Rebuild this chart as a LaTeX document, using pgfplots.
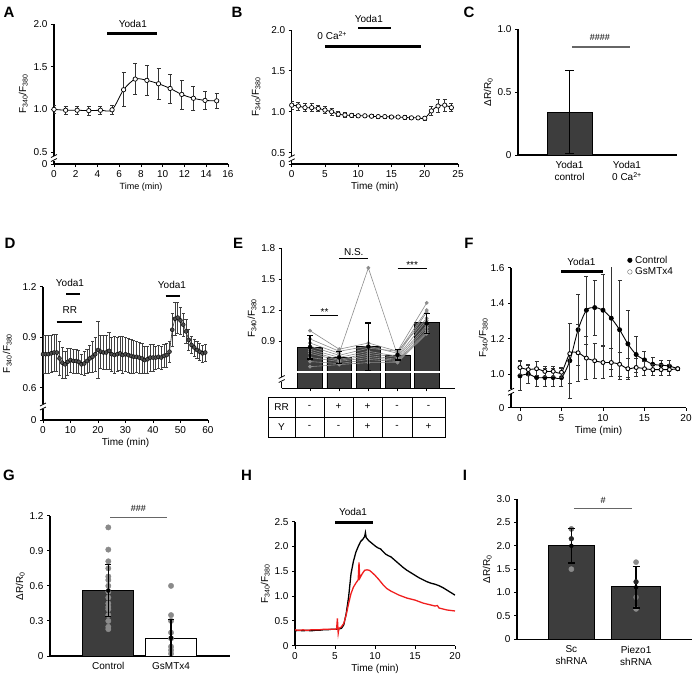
\documentclass[border=0pt]{standalone}
\usepackage{fontspec}
\setmainfont{Liberation Sans}
\usepackage{pgfplots}
\pgfplotsset{compat=1.18}
\definecolor{barfill}{HTML}{3D3D3D}
\definecolor{dotgray}{HTML}{8A8A8A}
\definecolor{hred}{HTML}{F01E1E}
\pgfplotsset{
  panel/.style={
    scale only axis, clip mode=individual, anchor=south west,
    axis x line*=bottom, axis y line*=left,
    axis line style={-, line width=1.1pt, black},
    tick align=outside, major tick length=3pt,
    tick style={line width=0.9pt, black},
    every tick label/.append style={font=\fontsize{10}{12}\selectfont},
    label style={font=\fontsize{10}{12}\selectfont},
    /pgf/number format/assume math mode=true,
    xlabel style={yshift=2pt},
    ylabel style={yshift=-2pt},
  },
  ebar/.style={error bars/.cd, y dir=both, y explicit,
    error bar style={line width=0.7pt, black!80},
    error mark options={rotate=90, mark size=2pt, line width=0.7pt, black!80}},
  bigebar/.style={error bars/.cd, y dir=both, y explicit,
    error bar style={line width=1.3pt, black},
    error mark options={rotate=90, mark size=#1, line width=1.3pt, black}},
}
\newcommand{\brk}[2]{%
  \fill[white] ([shift={(-4pt,-2.5pt)}]axis cs:#1,#2) rectangle ([shift={(4pt,2.5pt)}]axis cs:#1,#2);
  \draw[line width=0.8pt] ([shift={(-3pt,-3.5pt)}]axis cs:#1,#2) -- ([shift={(3pt,-0.5pt)}]axis cs:#1,#2);
  \draw[line width=0.8pt] ([shift={(-3pt,0.5pt)}]axis cs:#1,#2) -- ([shift={(3pt,3.5pt)}]axis cs:#1,#2);
}
\newcommand{\yl}{F\textsubscript{340}/F\textsubscript{380}}
\newcommand{\dr}{ΔR/R\textsubscript{0}}
\newcommand{\hfour}{\fontsize{9}{10}\selectfont\#\#\#\#}
\newcommand{\hthree}{\fontsize{9}{10}\selectfont\#\#\#}
\newcommand{\hone}{\fontsize{9}{10}\selectfont\#}
\begin{document}
\begin{tikzpicture}
\path[use as bounding box] (0pt,0pt) rectangle (696pt,-678pt);
\tikzset{plab/.style={font=\bfseries\fontsize{15}{17}\selectfont}}
\node[plab] at (9pt,-12.5pt) {A};
\node[plab] at (237pt,-12pt) {B};
\node[plab] at (469pt,-12pt) {C};
\node[plab] at (10pt,-243pt) {D};
\node[plab] at (238pt,-243pt) {E};
\node[plab] at (469pt,-243pt) {F};
\node[plab] at (9pt,-475pt) {G};
\node[plab] at (246.5pt,-475pt) {H};
\node[plab] at (465pt,-475pt) {I};

% ---------------- A
\begin{axis}[panel, at={(54pt,-164pt)}, width=174pt, height=140pt,
  xmin=0, xmax=16, ymin=0.36, ymax=2.0,
  xtick={0,2,...,16}, ytick={0.5,1,1.5,2}, yticklabels={0.5,1.0,1.5,2.0},
  extra y ticks={0.36}, extra y tick labels={0},
  xlabel={Time (min)}, ylabel={\yl}, xlabel style={font=\fontsize{9}{11}\selectfont},
  ylabel style={yshift=-5pt}]
\addplot[black, line width=0.8pt, smooth, mark=*, mark size=2.2pt,
  mark options={fill=white, line width=0.7pt}, ebar]
  table[x=t, y=v, y error=e] {
t v e
0 1.00 0.05
1.07 0.99 0.05
2.13 0.99 0.05
3.2 0.985 0.055
4.27 0.99 0.05
5.34 0.995 0.05
6.4 1.23 0.20
7.47 1.355 0.18
8.54 1.34 0.17
9.61 1.30 0.18
10.68 1.245 0.17
11.75 1.175 0.17
12.82 1.13 0.14
13.89 1.105 0.11
14.96 1.10 0.09
};
\draw[line width=3pt] (axis cs:4.9,1.894) -- (axis cs:9.5,1.894);
\node at (axis cs:7.25,2.0) {Yoda1};
\brk{0}{0.43}
\end{axis}

% ---------------- B
\begin{axis}[panel, at={(291.7pt,-164pt)}, width=166.3pt, height=134pt,
  xmin=0, xmax=25, ymin=0.36, ymax=2.0,
  xtick={0,5,...,25}, ytick={0.5,1,1.5,2}, yticklabels={0.5,1.0,1.5,2.0},
  extra y ticks={0.36}, extra y tick labels={0},
  xlabel={Time (min)}, ylabel={\yl}]
\addplot[black, line width=0.8pt, smooth, mark=*, mark size=2.2pt,
  mark options={fill=white, line width=0.7pt}, ebar]
  table[x=t, y=v, y error=e] {
t v e
0 1.08 0.05
1 1.07 0.05
2 1.05 0.05
3 1.05 0.05
4 1.04 0.04
5 1.02 0.04
6 1.00 0.04
7 0.97 0.03
8 0.96 0.03
9 0.955 0.02
10 0.95 0.02
11 0.95 0.02
12 0.945 0.02
13 0.94 0.02
14 0.94 0.02
15 0.935 0.02
16 0.935 0.02
17 0.93 0.02
18 0.925 0.02
19 0.925 0.02
20 0.92 0.02
21 1.01 0.06
22 1.07 0.08
23 1.08 0.07
24 1.05 0.05
};
\draw[line width=3pt] (axis cs:5,1.80) -- (axis cs:19.4,1.80);
\draw[line width=2.5pt] (axis cs:10,2.025) -- (axis cs:15,2.025);
\node at (axis cs:6.1,1.93) {0 Ca\textsuperscript{2+}};
\node at (axis cs:11.6,2.14) {Yoda1};
\brk{0}{0.43}
\end{axis}

% ---------------- C
\begin{axis}[panel, at={(518pt,-155pt)}, width=159pt, height=126pt,
  xmin=0.104, xmax=2.87, ymin=0, ymax=1,
  ytick={0,0.5,1}, yticklabels={0,0.5,1.0},
  xtick={1,2}, xticklabels={{Yoda1\\control},{Yoda1\\0 Ca\textsuperscript{2+}}},
  xticklabel style={align=center}, xtick style={draw=none},
  ylabel={\dr}]
\addplot[ybar, bar width=45pt, fill=barfill, draw=black, line width=0.8pt, bigebar=4.5pt]
  coordinates {(1,0.34) +- (0,0.33)};
\addplot[ybar, bar width=45pt, fill=barfill, draw=black, line width=0.8pt]
  coordinates {(2,0.004)};
\draw[line width=1.2pt, black!60] (axis cs:1.043,0.857) -- (axis cs:2.05,0.857);
\node at (axis cs:1.53,0.93) {\hfour};
\end{axis}

% ---------------- D
\begin{axis}[panel, at={(43pt,-420pt)}, width=165pt, height=133.3pt,
  xmin=0, xmax=60, ymin=0.41, ymax=1.2,
  xtick={0,10,...,60}, ytick={0.6,0.9,1.2}, yticklabels={0.6,0.9,1.2},
  extra y ticks={0.41}, extra y tick labels={0},
  xlabel={Time (min)}, ylabel={\yl}]
\addplot[black!80, line width=0.6pt, mark=*, mark size=2pt,
  mark options={fill=black!70, draw=black, line width=0.4pt},
  error bars/.cd, y dir=both, y explicit,
  error bar style={line width=0.5pt, black!75},
  error mark options={rotate=90, mark size=1.6pt, line width=0.5pt, black!75}]
  table[x=t, y=v, y error=e] {
t v e
0 0.80 0.11
1 0.80 0.11
2 0.80 0.11
3 0.805 0.11
4 0.81 0.11
5 0.81 0.11
6 0.775 0.10
7 0.75 0.09
8 0.74 0.08
9 0.755 0.08
10 0.765 0.07
11 0.76 0.07
12 0.76 0.07
13 0.755 0.07
14 0.74 0.06
15 0.745 0.07
16 0.76 0.07
17 0.775 0.08
18 0.785 0.09
19 0.80 0.10
20 0.825 0.17
21 0.815 0.10
22 0.81 0.10
23 0.81 0.10
24 0.82 0.11
25 0.80 0.10
26 0.795 0.11
27 0.80 0.10
28 0.805 0.10
29 0.795 0.11
30 0.80 0.10
31 0.795 0.10
32 0.79 0.10
33 0.785 0.10
34 0.785 0.09
35 0.78 0.09
36 0.775 0.09
37 0.765 0.08
38 0.77 0.08
39 0.78 0.08
40 0.78 0.08
41 0.78 0.07
42 0.785 0.07
43 0.78 0.07
44 0.79 0.07
45 0.795 0.07
46 0.815 0.06
47 0.945 0.10
48 1.01 0.10
49 1.017 0.09
50 1.00 0.08
51 0.975 0.07
52 0.935 0.07
53 0.885 0.06
54 0.855 0.05
55 0.84 0.05
56 0.825 0.05
57 0.815 0.05
58 0.805 0.05
59 0.81 0.05
};
\draw[line width=2.5pt] (axis cs:8.5,1.157) -- (axis cs:13.5,1.157);
\node at (axis cs:9.8,1.222) {Yoda1};
\draw[line width=2.5pt] (axis cs:5,0.99) -- (axis cs:14.3,0.99);
\node at (axis cs:9.8,1.062) {RR};
\draw[line width=2.5pt] (axis cs:44.6,1.145) -- (axis cs:49.8,1.145);
\node at (axis cs:46.9,1.21) {Yoda1};
\brk{0}{0.49}
\end{axis}

% ---------------- E
\begin{axis}[panel, at={(281.7pt,-388.3pt)}, width=173.3pt, height=140pt,
  xmin=0.03, xmax=5.97, ymin=0.44, ymax=1.8,
  xtick={1,...,5}, xticklabels={}, ytick={0.9,1.2,1.5,1.8}, yticklabels={0.9,1.2,1.5,1.8},
  ylabel={\yl}]
\addplot[ybar, bar width=24.7pt, fill=barfill, draw=black, line width=0.5pt]
  coordinates {(1,0.84)(2,0.74)(3,0.845)(4,0.765)(5,1.077)};
\draw[white, line width=2.2pt] (axis cs:0.45,0.60) -- (axis cs:5.55,0.60);
\addplot[black!45, line width=0.6pt, mark=*, mark size=1.6pt, mark options={fill=black!45, draw=black!45}] coordinates {(1,1.00)(2,0.82)(3,0.88)(4,0.80)(5,1.27)};
\addplot[black!45, line width=0.6pt, mark=*, mark size=1.6pt, mark options={fill=black!45, draw=black!45}] coordinates {(1,0.92)(2,0.80)(3,0.85)(4,0.78)(5,1.20)};
\addplot[black!45, line width=0.6pt, mark=*, mark size=1.6pt, mark options={fill=black!45, draw=black!45}] coordinates {(1,0.88)(2,0.78)(3,1.61)(4,0.76)(5,1.18)};
\addplot[black!45, line width=0.6pt, mark=*, mark size=1.6pt, mark options={fill=black!45, draw=black!45}] coordinates {(1,0.85)(2,0.76)(3,0.83)(4,0.80)(5,1.12)};
\addplot[black!45, line width=0.6pt, mark=*, mark size=1.6pt, mark options={fill=black!45, draw=black!45}] coordinates {(1,0.82)(2,0.74)(3,0.80)(4,0.75)(5,1.10)};
\addplot[black!45, line width=0.6pt, mark=*, mark size=1.6pt, mark options={fill=black!45, draw=black!45}] coordinates {(1,0.80)(2,0.72)(3,0.78)(4,0.74)(5,1.05)};
\addplot[black!45, line width=0.6pt, mark=*, mark size=1.6pt, mark options={fill=black!45, draw=black!45}] coordinates {(1,0.78)(2,0.71)(3,0.76)(4,0.72)(5,1.03)};
\addplot[black!45, line width=0.6pt, mark=*, mark size=1.6pt, mark options={fill=black!45, draw=black!45}] coordinates {(1,0.74)(2,0.70)(3,0.74)(4,0.71)(5,1.00)};
\addplot[black!45, line width=0.6pt, mark=*, mark size=1.6pt, mark options={fill=black!45, draw=black!45}] coordinates {(1,0.70)(2,0.68)(3,0.72)(4,0.70)(5,0.98)};
\addplot[black!45, line width=0.6pt, mark=*, mark size=1.6pt, mark options={fill=black!45, draw=black!45}] coordinates {(1,0.65)(2,0.67)(3,0.69)(4,0.69)(5,0.97)};
\addplot[only marks, mark=none, bigebar=3pt]
  coordinates {(1,0.84) +- (0,0.116) (2,0.74) +- (0,0.056) (3,0.845) +- (0,0.23)
               (4,0.765) +- (0,0.05) (5,1.07) +- (0,0.10)};
\draw[line width=0.9pt] (axis cs:1,1.146) -- (axis cs:1.97,1.146);
\node[anchor=base] at (axis cs:1.5,1.146) {**};
\draw[line width=0.9pt] (axis cs:2,1.706) -- (axis cs:3,1.706);
\node[anchor=south, inner sep=2pt] at (axis cs:2.5,1.706) {N.S.};
\draw[line width=0.9pt] (axis cs:4,1.606) -- (axis cs:5,1.606);
\node[anchor=base] at (axis cs:4.5,1.606) {***};
\brk{0.03}{0.53}
\end{axis}
\begin{scope}[line width=0.9pt]
\draw (268pt,-397pt) rectangle (445pt,-437pt);
\draw (268pt,-417pt) -- (445pt,-417pt);
\foreach \x in {295,324,353,382,412} \draw (\x pt,-397pt) -- (\x pt,-437pt);
\node at (281.5pt,-407pt) {RR};
\node at (281.5pt,-427pt) {Y};
\foreach \x/\a/\b in {309.5/-/-,338.5/+/-,367.5/+/+,397/-/-,428.5/-/+} {
  \node at (\x pt,-407pt) {\a};
  \node at (\x pt,-427pt) {\b};
}
\end{scope}

% ---------------- F
\begin{axis}[panel, at={(511pt,-407.7pt)}, width=175pt, height=140pt,
  xmin=-1.08, xmax=20, ymin=0.81, ymax=1.6,
  xtick={0,5,...,20}, ytick={1,1.2,1.4,1.6}, yticklabels={1.0,1.2,1.4,1.6},
  extra y ticks={0.81}, extra y tick labels={0},
  xlabel={Time (min)}, ylabel={\yl}, ylabel style={yshift=-8pt},
  legend style={draw=none, fill=none, at={(rel axis cs:0.665,1.10)}, anchor=north west,
    font=\fontsize{10}{12}\selectfont, row sep=-1pt, inner sep=0pt,
    /tikz/every odd column/.append style={column sep=1pt}},
  legend cell align=left,
  legend image code/.code={\draw[#1] plot coordinates {(0pt,0pt)};}]
\addplot[forget plot, black, line width=0.9pt, smooth, mark=*, mark size=2pt,
  mark options={fill=black}, ebar]
  table[x=t, y=v, y error=e] {
t v e
0 0.99 0.08
1 1.00 0.05
2 0.98 0.05
3 0.98 0.05
4 0.98 0.05
5 0.98 0.05
6 1.075 0.21
7 1.25 0.20
8 1.36 0.19
9 1.375 0.155
10 1.36 0.20
11 1.315 0.29
12 1.25 0.28
13 1.17 0.19
14 1.11 0.10
15 1.08 0.05
16 1.055 0.04
17 1.05 0.03
18 1.045 0.03
19 1.03 0.01
};
\addplot[forget plot, black, line width=0.9pt, smooth, mark=*, mark size=2pt,
  mark options={fill=white}, ebar]
  table[x=t, y=v, y error=e] {
t v e
0 1.037 0.04
1 1.025 0.03
2 1.03 0.04
3 1.015 0.03
4 1.015 0.03
5 1.01 0.03
6 1.115 0.17
7 1.12 0.16
8 1.09 0.12
9 1.075 0.10
10 1.065 0.09
11 1.065 0.08
12 1.055 0.07
13 1.03 0.06
14 1.037 0.05
15 1.03 0.04
16 1.025 0.03
17 1.025 0.03
18 1.025 0.03
19 1.03 0.01
};
\addlegendimage{only marks, mark=*, mark size=2.3pt, black, mark options={fill=black}}
\addlegendentry{Control}
\addlegendimage{only marks, mark=*, mark size=2.3pt, black!60, mark options={fill=white}}
\addlegendentry{GsMTx4}
\draw[line width=3pt] (axis cs:5,1.58) -- (axis cs:10,1.58);
\node at (axis cs:7.4,1.63) {Yoda1};
\brk{-1.08}{0.90}
\end{axis}

% ---------------- G
\begin{axis}[panel, at={(50pt,-656pt)}, width=180pt, height=140.3pt,
  xmin=0.07, xmax=2.94, ymin=0, ymax=1.2,
  ytick={0,0.3,0.6,0.9,1.2}, yticklabels={0,0.3,0.6,0.9,1.2},
  xtick={1,2}, xticklabels={Control,GsMTx4}, xtick style={draw=none},
  ylabel={\dr}]
\addplot[ybar, bar width=51pt, fill=barfill, draw=black, line width=1pt]
  coordinates {(1,0.56)};
\addplot[ybar, bar width=51pt, fill=white, draw=black, line width=1pt]
  coordinates {(2,0.15)};
\addplot[only marks, mark=*, mark size=2.7pt, dotgray, mark options={draw=dotgray, fill=dotgray}]
  coordinates {(1,1.10)(1,0.91)(1,0.81)(1,0.75)(1,0.68)(1,0.65)(1,0.60)(1,0.55)
               (1,0.50)(1,0.45)(1,0.42)(1,0.40)(1,0.35)(1,0.30)(1,0.25)(1,0.23)
               (2,0.60)(2,0.35)(2,0.30)(2,0.20)(2,0.15)(2,0.08)(2,0.05)(2,0.02)};
\addplot[only marks, mark=none, bigebar=3pt]
  coordinates {(1,0.56) +- (0,0.22) (2,0.155) +- (0,0.16)};
\draw[line width=1.1pt, black!60] (axis cs:1.027,1.183) -- (axis cs:1.93,1.183);
\node at (axis cs:1.48,1.26) {\hthree};
\end{axis}

% ---------------- H
\begin{axis}[panel, at={(295pt,-645.7pt)}, width=160pt, height=124pt,
  xmin=0, xmax=20, ymin=0, ymax=2.5,
  xtick={0,5,...,20}, ytick={0,0.5,...,2.5}, yticklabels={0,0.5,1.0,1.5,2.0,2.5},
  xlabel={Time (min)}, ylabel={\yl}]
\addplot[black, line width=1.3pt] coordinates {
(0,0.30)(0.5,0.31)(1,0.30)(1.5,0.31)(2,0.30)(2.5,0.31)(3,0.31)(3.5,0.32)(4,0.32)(4.5,0.33)
(5,0.33)(5.5,0.34)(5.8,0.35)(6.1,0.42)(6.4,0.65)(6.7,0.98)(7.0,1.45)(7.3,1.70)(7.6,1.88)
(7.9,2.00)(8.2,2.10)(8.5,2.15)(8.7,2.20)(8.8,2.28)(8.9,2.18)(9.2,2.12)(9.5,2.08)(9.8,2.04)
(10.1,2.00)(10.4,1.97)(10.7,1.95)(11,1.90)(11.3,1.85)(11.6,1.82)(12,1.79)(12.5,1.72)
(13,1.65)(13.5,1.58)(14,1.52)(14.5,1.47)(15,1.42)(15.5,1.37)(16,1.33)(16.5,1.29)(17,1.26)
(17.5,1.24)(18,1.21)(18.5,1.17)(19,1.12)(19.5,1.07)(20,1.02)};
\addplot[hred, line width=1.3pt] coordinates {
(0,0.32)(0.5,0.31)(1,0.32)(1.5,0.31)(2,0.32)(2.5,0.32)(3,0.32)(3.5,0.33)(4,0.33)(4.5,0.33)
(5,0.33)(5.2,0.34)(5.3,0.55)(5.4,0.25)(5.5,0.35)(5.8,0.38)(6.1,0.45)(6.4,0.62)(6.7,0.85)
(7.0,1.05)(7.3,1.18)(7.6,1.26)(7.9,1.33)(8.0,1.68)(8.1,1.36)(8.4,1.45)(8.7,1.52)(9.0,1.53)
(9.3,1.52)(9.6,1.48)(10,1.42)(10.5,1.33)(11,1.23)(11.5,1.15)(12,1.10)(12.5,1.06)(13,1.02)
(13.5,0.99)(14,0.96)(14.5,0.94)(15,0.92)(15.5,0.89)(16,0.86)(16.5,0.84)(17,0.82)(17.5,0.80)
(17.8,0.81)(18,0.76)(18.5,0.74)(19,0.72)(19.5,0.71)(20,0.70)};
\draw[line width=3pt] (axis cs:5,2.48) -- (axis cs:9.8,2.48);
\node at (axis cs:7.25,2.70) {Yoda1};
\end{axis}

% ---------------- I
\begin{axis}[panel, at={(517pt,-639.3pt)}, width=174.7pt, height=140.3pt,
  xmin=0.16, xmax=2.86, ymin=0, ymax=3,
  ytick={0,0.5,...,3}, yticklabels={0,0.5,1.0,1.5,2.0,2.5,3.0},
  xtick={1,2}, xticklabels={{Sc\\shRNA},{Piezo1\\shRNA}},
  xticklabel style={align=center}, xtick style={draw=none},
  ylabel={\dr}]
\addplot[ybar, bar width=46pt, fill=barfill, draw=black, line width=1pt]
  coordinates {(1,2.0)};
\addplot[ybar, bar width=49pt, fill=barfill, draw=black, line width=1pt]
  coordinates {(2,1.12)};
\addplot[only marks, mark=*, mark size=2.6pt, dotgray, mark options={draw=dotgray, fill=dotgray}]
  coordinates {(1,1.5)(2,1.65)(2,0.65)};
\addplot[only marks, mark=*, mark size=2.6pt, black!55, mark options={draw=black!55, fill=black!55}]
  coordinates {(1,2.36)(2,0.9)};
\addplot[only marks, mark=none, bigebar=3.5pt]
  coordinates {(1,2.0) +- (0,0.37) (2,1.11) +- (0,0.44)};
\addplot[only marks, mark=*, mark size=2.4pt, black!85, mark options={draw=black!85, fill=black!85}]
  coordinates {(1,2.15)(2,1.23)};
\draw[line width=1.1pt, black!60] (axis cs:1.04,2.80) -- (axis cs:1.93,2.80);
\node at (axis cs:1.49,2.98) {\hone};
\end{axis}
\end{tikzpicture}
\end{document}
